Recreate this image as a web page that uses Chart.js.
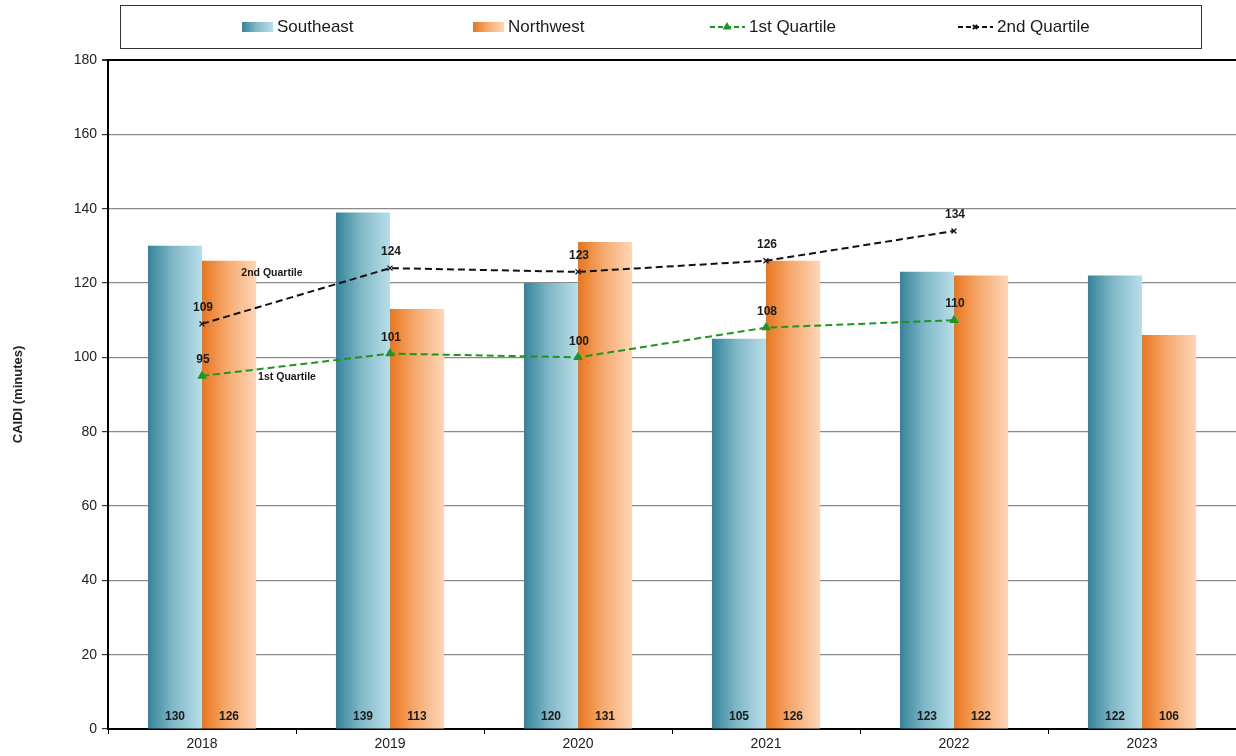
<!DOCTYPE html>
<html>
<head>
<meta charset="utf-8">
<script src="https://cdn.jsdelivr.net/npm/chart.js@4"></script>
<style>
  html, body { margin: 0; padding: 0; background: #fff; overflow: hidden; }
  #wrap { width: 1236px; height: 756px; position: relative; }
</style>
</head>
<body>
<div id="wrap"><canvas id="caidiChart" width="1236" height="756"></canvas></div>
<script>
// data
const years = ['2018', '2019', '2020', '2021', '2022', '2023'];
const southeast = [130, 139, 120, 105, 123, 122];
const northwest = [126, 113, 131, 126, 122, 106];
const quartile1 = [95, 101, 100, 108, 110, null];
const quartile2 = [109, 124, 123, 126, 134, null];
const yTicks = [0, 20, 40, 60, 80, 100, 120, 140, 160, 180];

const FONT = '"Liberation Sans", Arial, sans-serif';
const CAT_PCT = 0.575;

// gradient stops for the bars (left -> right)
const barStops = {
  0: ['#34839a', '#7fb6c6', '#b9dfe8'],
  1: ['#e8751e', '#f4a86c', '#fdd7b9']
};

function makeGradient(ctx, left, width, di) {
  const g = ctx.createLinearGradient(left, 0, left + width, 0);
  g.addColorStop(0, barStops[di][0]);
  g.addColorStop(0.45, barStops[di][1]);
  g.addColorStop(1, barStops[di][2]);
  return g;
}

// scriptable fill: each bar gets its own horizontal gradient, placed from the x scale
function barFill(c) {
  const chart = c.chart;
  const xs = chart.scales.x;
  if (!xs || !chart.chartArea || c.dataIndex == null) return barStops[c.datasetIndex][1];
  const center = xs.getPixelForValue(c.dataIndex);
  const barW = (xs.width / years.length) * CAT_PCT / 2;
  const left = c.datasetIndex === 0 ? center - barW : center;
  return makeGradient(chart.ctx, left, barW, c.datasetIndex);
}

// value labels: bottom of bars, above line points, plus the two series notes
const valueLabels = {
  id: 'valueLabels',
  afterDatasetsDraw(chart) {
    const ctx = chart.ctx;
    const bottom = chart.scales.y.getPixelForValue(0);
    ctx.save();
    ctx.fillStyle = '#1a1a1a';
    ctx.textAlign = 'center';
    ctx.textBaseline = 'middle';
    ctx.font = 'bold 12px ' + FONT;
    [0, 1].forEach(function (di) {
      chart.getDatasetMeta(di).data.forEach(function (bar, i) {
        ctx.fillText(chart.data.datasets[di].data[i], bar.x, bottom - 12);
      });
    });
    [2, 3].forEach(function (di) {
      chart.getDatasetMeta(di).data.forEach(function (pt, i) {
        const v = chart.data.datasets[di].data[i];
        if (v == null) return;
        ctx.fillText(v, pt.x + 1, pt.y - 16);
      });
    });
    // series notes next to the first points
    ctx.font = 'bold 10.5px ' + FONT;
    const q2 = chart.getDatasetMeta(3).data[0];
    const q1 = chart.getDatasetMeta(2).data[0];
    ctx.fillText('2nd Quartile', q2.x + 70, q2.y - 51);
    ctx.fillText('1st Quartile', q1.x + 85, q1.y + 1);
    ctx.restore();
  }
};

// legend box at the top
const topLegend = {
  id: 'topLegend',
  afterDraw(chart) {
    const ctx = chart.ctx;
    ctx.save();
    ctx.strokeStyle = '#333';
    ctx.lineWidth = 1;
    ctx.strokeRect(120.5, 5.5, 1081, 43);
    ctx.font = '17px ' + FONT;
    ctx.textAlign = 'left';
    ctx.textBaseline = 'middle';
    ctx.fillStyle = '#1a1a1a';
    const cy = 27;
    const items = [
      { x: 242, type: 'bar', di: 0, text: 'Southeast' },
      { x: 473, type: 'bar', di: 1, text: 'Northwest' },
      { x: 710, type: 'line', color: '#1e961e', point: 'triangle', text: '1st Quartile' },
      { x: 958, type: 'line', color: '#111', point: 'crossRot', text: '2nd Quartile' }
    ];
    items.forEach(function (it) {
      if (it.type === 'bar') {
        ctx.fillStyle = makeGradient(ctx, it.x, 31, it.di);
        ctx.fillRect(it.x, cy - 5, 31, 10);
        ctx.fillStyle = '#1a1a1a';
        ctx.fillText(it.text, it.x + 35, cy);
      } else {
        ctx.strokeStyle = it.color;
        ctx.lineWidth = 2;
        ctx.setLineDash([5, 3]);
        ctx.beginPath();
        ctx.moveTo(it.x, cy);
        ctx.lineTo(it.x + 35, cy);
        ctx.stroke();
        ctx.setLineDash([]);
        ctx.fillStyle = it.color;
        ctx.strokeStyle = it.color;
        Chart.helpers.drawPoint(ctx, { pointStyle: it.point, radius: 3, rotation: 0, borderWidth: 1.2 }, it.x + 17, cy);
        ctx.fillStyle = '#1a1a1a';
        ctx.fillText(it.text, it.x + 39, cy);
      }
    });
    ctx.restore();
  }
};

const ctx = document.getElementById('caidiChart').getContext('2d');
new Chart(ctx, {
  type: 'bar',
  data: {
    labels: years,
    datasets: [
      {
        label: 'Southeast',
        data: southeast,
        backgroundColor: barFill,
        barPercentage: 1,
        categoryPercentage: CAT_PCT,
        order: 2
      },
      {
        label: 'Northwest',
        data: northwest,
        backgroundColor: barFill,
        barPercentage: 1,
        categoryPercentage: CAT_PCT,
        order: 2
      },
      {
        type: 'line',
        label: '1st Quartile',
        data: quartile1,
        borderColor: '#1e961e',
        backgroundColor: '#1e961e',
        borderWidth: 2,
        borderDash: [7, 4],
        pointStyle: 'triangle',
        pointRadius: 3.5,
        tension: 0,
        spanGaps: false,
        order: 1
      },
      {
        type: 'line',
        label: '2nd Quartile',
        data: quartile2,
        borderColor: '#111',
        backgroundColor: '#111',
        borderWidth: 2,
        borderDash: [7, 4],
        pointStyle: 'crossRot',
        pointRadius: 3.5,
        pointBorderWidth: 1.3,
        tension: 0,
        spanGaps: false,
        order: 1
      }
    ]
  },
  options: {
    responsive: false,
    animation: false,
    devicePixelRatio: 1,
    layout: { autoPadding: false, padding: { top: 60, right: 0, left: 0, bottom: 0 } },
    plugins: {
      legend: { display: false },
      tooltip: { enabled: false }
    },
    scales: {
      x: {
        afterFit(scale) { scale.height = 27; },
        border: { color: '#000', width: 2 },
        grid: {
          offset: true,
          drawOnChartArea: false,
          color: '#000',
          tickLength: 5
        },
        ticks: {
          color: '#222',
          padding: 2,
          maxRotation: 0,
          minRotation: 0,
          font: { size: 14, family: FONT }
        }
      },
      y: {
        min: 0,
        max: 180,
        afterFit(scale) { scale.width = 108; },
        afterBuildTicks(scale) {
          scale.ticks = yTicks.map(function (v) { return { value: v }; });
        },
        border: { color: '#000', width: 2 },
        grid: {
          color: function (c) { return c.tick && c.tick.value === 180 ? '#000' : '#8a8a8a'; },
          lineWidth: function (c) { return c.tick && c.tick.value === 180 ? 2 : 1.2; },
          tickColor: '#333',
          tickLength: 6
        },
        ticks: {
          color: '#222',
          padding: 5,
          font: { size: 14, family: FONT }
        },
        title: {
          display: true,
          text: 'CAIDI (minutes)',
          color: '#222',
          padding: { top: 11, bottom: 0 },
          font: { size: 13, weight: 'bold', family: FONT }
        }
      }
    }
  },
  plugins: [valueLabels, topLegend]
});
</script>
</body>
</html>
